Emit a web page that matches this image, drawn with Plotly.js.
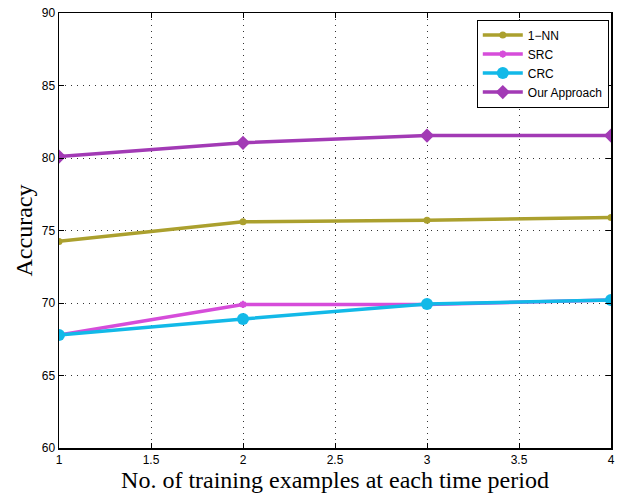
<!DOCTYPE html>
<html>
<head>
<meta charset="utf-8">
<script src="https://cdn.plot.ly/plotly-3.0.1.min.js"></script>
<style>html,body{margin:0;padding:0;background:#fff;}</style>
</head>
<body>
<div id="chart" style="width:621px;height:493px;"></div>
<script>
const xVals = [1, 2, 3, 4];
const nn1 = [74.25, 75.6, 75.7, 75.9];
const src = [67.8, 69.9, 69.9, 70.2];
const crc = [67.8, 68.9, 69.93, 70.2];
const ours = [80.1, 81.05, 81.55, 81.55];
const names = ["1\u2212NN", "SRC", "CRC", "Our Approach"];

const traces = [
  {x: xVals, y: nn1, name: names[0], mode: "lines+markers",
   line: {color: "#ABA02E", width: 3.5}, marker: {symbol: "circle", size: 7, color: "#ABA02E"}},
  {x: xVals, y: src, name: names[1], mode: "lines+markers",
   line: {color: "#D64DDA", width: 3.5}, marker: {symbol: "asterisk", size: 6, color: "#D64DDA", line: {color: "#D64DDA", width: 2}}},
  {x: xVals, y: crc, name: names[2], mode: "lines+markers",
   line: {color: "#12B9E8", width: 3.5}, marker: {symbol: "circle", size: 12, color: "#12B9E8"}},
  {x: xVals, y: ours, name: names[3], mode: "lines+markers",
   line: {color: "#A23AB5", width: 3.5}, marker: {symbol: "diamond", size: 11, color: "#A23AB5"}}
];

const axisCommon = {
  showline: true, linecolor: "#000", linewidth: 1.5, mirror: "ticks",
  ticks: "inside", ticklen: 5, tickcolor: "#000",
  showgrid: true, gridcolor: "#333", griddash: "1px,5px", gridwidth: 1,
  zeroline: false,
  tickfont: {family: "Liberation Sans, Arial, sans-serif", size: 12, color: "#000"}
};

const layout = {
  width: 621, height: 493,
  margin: {l: 59, r: 10, t: 13, b: 45},
  paper_bgcolor: "#fff", plot_bgcolor: "#fff",
  showlegend: true,
  xaxis: Object.assign({}, axisCommon, {
    range: [1, 4], dtick: 0.5, tick0: 1,
    title: {text: "No. of training examples at each time period", standoff: 4,
            font: {family: "Liberation Serif, Times New Roman, serif", size: 24, color: "#000"}}
  }),
  yaxis: Object.assign({}, axisCommon, {
    range: [60, 90], dtick: 5,
    title: {text: "Accuracy", standoff: 2,
            font: {family: "Liberation Serif, Times New Roman, serif", size: 24, color: "#000"}}
  }),
  legend: {
    x: 0.996, y: 0.985, xanchor: "right", yanchor: "top",
    bgcolor: "#fff", bordercolor: "#000", borderwidth: 1,
    font: {family: "Liberation Sans, Arial, sans-serif", size: 12, color: "#000"},
    tracegroupgap: 0, itemwidth: 40
  }
};

Plotly.newPlot("chart", traces, layout, {displayModeBar: false, staticPlot: true});
</script>
</body>
</html>
